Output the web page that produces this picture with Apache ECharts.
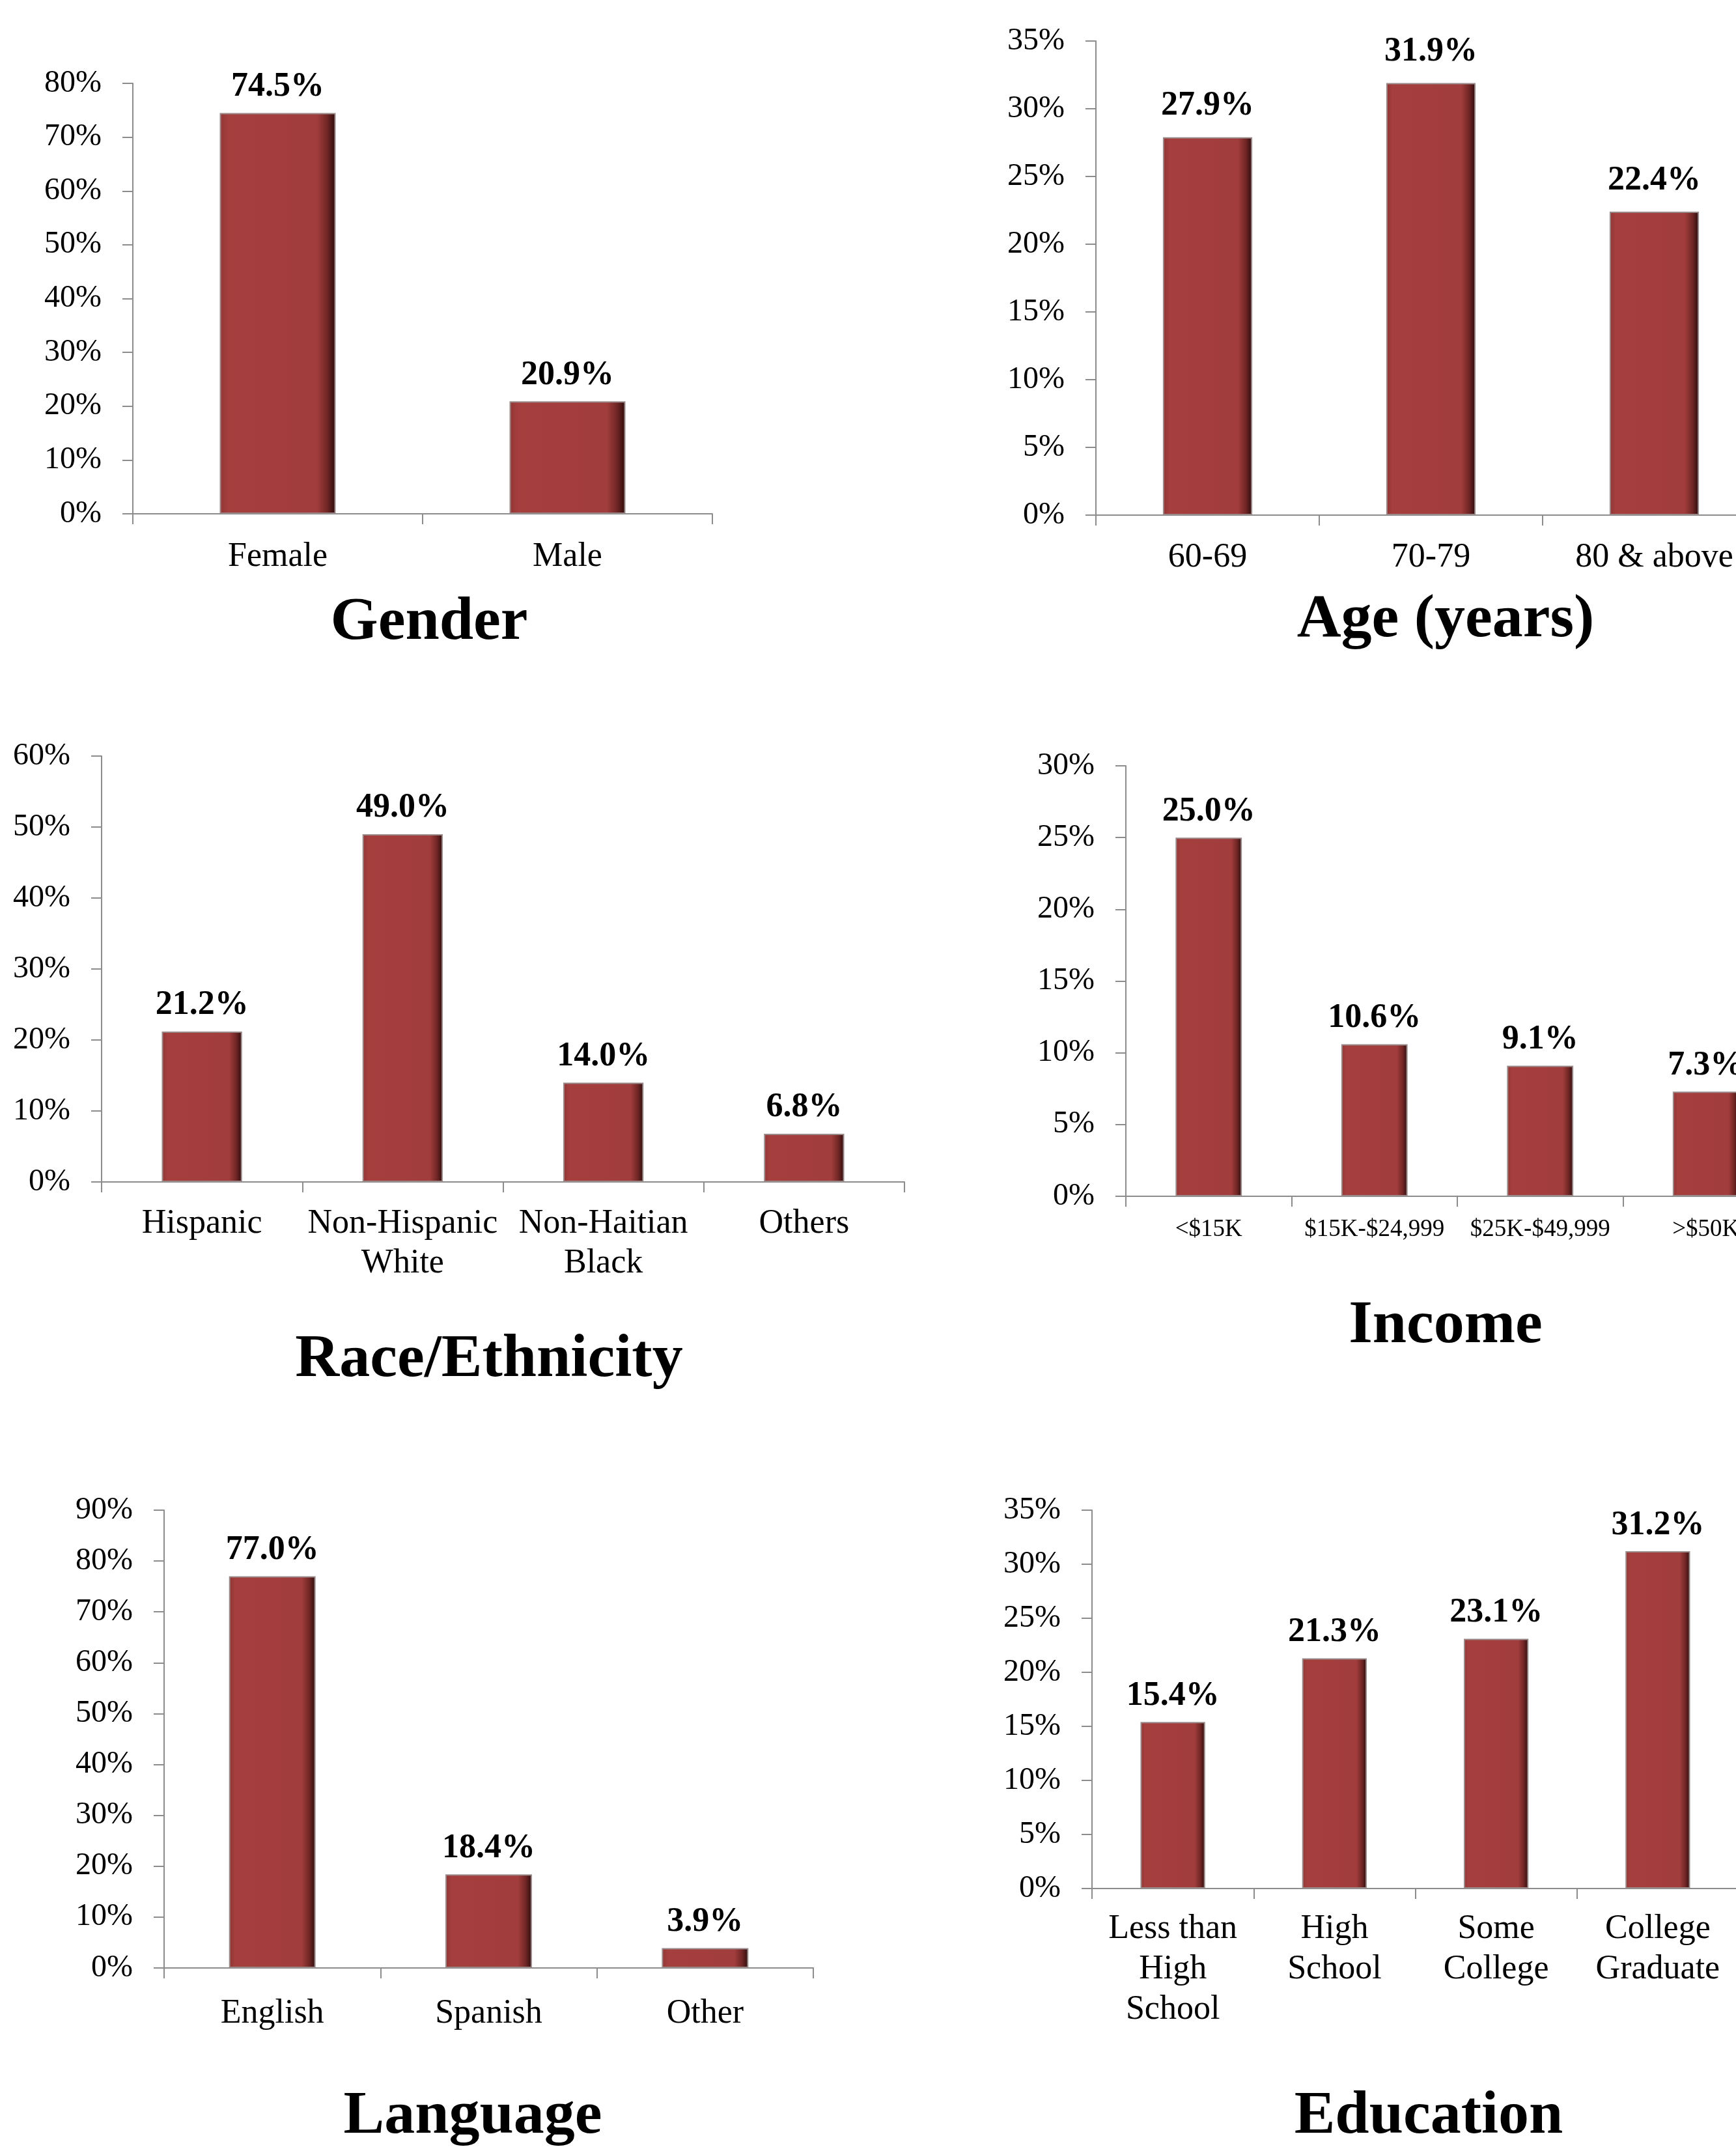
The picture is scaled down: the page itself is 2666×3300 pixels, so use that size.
<!DOCTYPE html>
<html>
<head>
<meta charset="utf-8">
<title>Sample characteristics</title>
<script src="https://cdn.jsdelivr.net/npm/echarts@6/dist/echarts.min.js"></script>
<style>
    html, body { margin: 0; padding: 0; background: #fff; }
    #main { width: 2666px; height: 3300px; }
</style>
</head>
<body>
<div id="main"></div>
<script>
// data (percent)
var genderCats = ['Female', 'Male'];
var genderVals = [74.5, 20.9];

var ageCats = ['60-69', '70-79', '80 & above'];
var ageVals = [27.9, 31.9, 22.4];

var raceCats = ['Hispanic', 'Non-Hispanic\nWhite', 'Non-Haitian\nBlack', 'Others'];
var raceVals = [21.2, 49.0, 14.0, 6.8];

var incomeCats = ['<$15K', '$15K-$24,999', '$25K-$49,999', '>$50K'];
var incomeVals = [25.0, 10.6, 9.1, 7.3];

var langCats = ['English', 'Spanish', 'Other'];
var langVals = [77.0, 18.4, 3.9];

var eduCats = ['Less than\nHigh\nSchool', 'High\nSchool', 'Some\nCollege', 'College\nGraduate'];
var eduVals = [15.4, 21.3, 23.1, 31.2];

var titles = ['Gender', 'Age (years)', 'Race/Ethnicity', 'Income', 'Language', 'Education'];

(function(){
    var myChart = echarts.init(document.getElementById('main'), null, {renderer: 'canvas'});
    var FONT = '"Liberation Serif", "Times New Roman", serif';
    var axisGrey = '#8c8c8c';

    // bar fill: flat red with darker right edge (bevel look)
    var barFill = new echarts.graphic.LinearGradient(0, 0, 1, 0, [
        {offset: 0, color: '#8f3534'},
        {offset: 0.07, color: '#a43f3e'},
        {offset: 0.84, color: '#a13d3c'},
        {offset: 0.93, color: '#6e2524'},
        {offset: 1, color: '#2b0b0b'}
    ]);

    // one entry per panel: layout + axis settings
    var panels = [
        {cats: genderCats, vals: genderVals, max: 80, step: 10, grid: [204, 128, 890, 661], lm: 36, cs: 52, lh: 60, dist: 14, title: [659, 957]},
        {cats: ageCats, vals: ageVals, max: 35, step: 5, grid: [1683, 63, 1029, 728], lm: 35, cs: 52, lh: 60, dist: 22, title: [2220, 953]},
        {cats: raceCats, vals: raceVals, max: 60, step: 10, grid: [156, 1161, 1233, 654], lm: 34, cs: 52, lh: 61, dist: 14, title: [751, 2089]},
        {cats: incomeCats, vals: incomeVals, max: 30, step: 5, grid: [1729, 1176, 1018, 661], lm: 29, cs: 37, lh: 44, dist: 14, title: [2220, 2037]},
        {cats: langCats, vals: langVals, max: 90, step: 10, grid: [252, 2319, 997, 703], lm: 40, cs: 52, lh: 60, dist: 14, title: [726, 3251]},
        {cats: eduCats, vals: eduVals, max: 35, step: 5, grid: [1677, 2319, 993, 581], lm: 31, cs: 52, lh: 62, dist: 14, title: [2194, 3251]}
    ];

    var grid = [], xAxis = [], yAxis = [], series = [], graphic = [];
    panels.forEach(function(p, i){
        grid.push({
            left: p.grid[0], top: p.grid[1], width: p.grid[2], height: p.grid[3],
            containLabel: false,
            outerBoundsMode: 'none'   // let right-hand panels run off the page like the original
        });
        xAxis.push({
            type: 'category',
            gridIndex: i,
            data: p.cats,
            axisLine: {lineStyle: {color: axisGrey, width: 2}},
            axisTick: {show: true, length: 16, lineStyle: {color: axisGrey, width: 2}},
            axisLabel: {
                interval: 0,
                hideOverlap: false,
                margin: p.lm,
                color: '#000',
                fontFamily: FONT,
                fontSize: p.cs,
                lineHeight: p.lh,
                align: 'center'
            }
        });
        yAxis.push({
            type: 'value',
            gridIndex: i,
            min: 0,
            max: p.max,
            interval: p.step,
            axisLine: {show: true, lineStyle: {color: axisGrey, width: 2}},
            axisTick: {show: true, length: 16, lineStyle: {color: axisGrey, width: 2}},
            splitLine: {show: false},
            axisLabel: {
                margin: 48,
                color: '#000',
                fontFamily: FONT,
                fontSize: 48,
                formatter: '{value}%'
            }
        });
        series.push({
            type: 'bar',
            xAxisIndex: i,
            yAxisIndex: i,
            data: p.vals,
            barWidth: '40%',
            itemStyle: {
                color: barFill,
                borderColor: '#9a8a8a',
                borderWidth: 2
            },
            label: {
                show: true,
                position: 'top',
                distance: p.dist,
                color: '#000',
                fontFamily: FONT,
                fontWeight: 'bold',
                fontSize: 52,
                formatter: function(d){ return d.value.toFixed(1) + '%'; }
            }
        });
        // panel heading below the chart
        graphic.push({
            type: 'text',
            x: p.title[0],
            y: p.title[1],
            style: {
                text: titles[i],
                fill: '#000',
                fontFamily: FONT,
                fontWeight: 'bold',
                fontSize: 94,
                align: 'center',
                verticalAlign: 'middle'
            }
        });
    });

    var option = {
        backgroundColor: '#ffffff',
        animation: false,
        grid: grid,
        xAxis: xAxis,
        yAxis: yAxis,
        series: series,
        graphic: graphic
    };
    myChart.setOption(option);
    window.addEventListener('resize', function(){
        myChart.resize();
    });
})();
</script>
</body>
</html>
